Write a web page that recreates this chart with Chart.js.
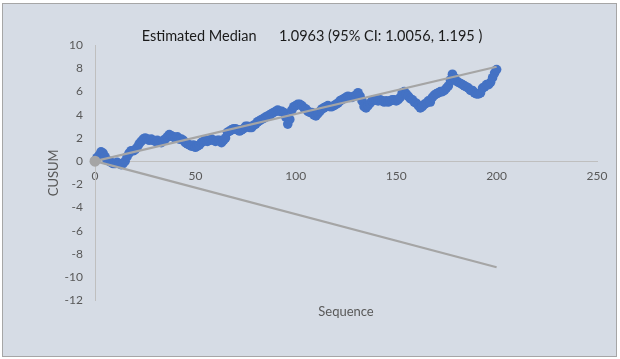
<!DOCTYPE html>
<html>
<head>
<meta charset="utf-8">
<script src="https://cdn.jsdelivr.net/npm/chart.js@4"></script>
<style>
  html, body { margin: 0; padding: 0; background: #ffffff; }
  #wrap { position: relative; width: 620px; height: 359px; }
  #frame { position: absolute; left: 2px; top: 3px; width: 613px; height: 352px; border: 1px solid #a6a6a6; pointer-events: none; }
</style>
</head>
<body>
<div id="wrap">
  <canvas id="c" width="620" height="359"></canvas>
  <div id="frame"></div>
</div>
<script>
const chartTitle = "Estimated Median      1.0963 (95% CI: 1.0056, 1.195 )";
const xTitle = "Sequence";
const yTitle = "CUSUM";
const yTicks = [10, 8, 6, 4, 2, 0, -2, -4, -6, -8, -10, -12];
const xTicks = [0, 50, 100, 150, 200, 250];

// CUSUM value at each sequence index 0..200
const cusum = [
  0,
  0.3, 0.5, 0.8, 0.7, 0.4, 0.1, 0.0, -0.1, -0.2, -0.2,
  -0.1, -0.2, -0.3, -0.2, 0.0, 0.4, 0.7, 0.9, 0.9, 1.0,
  1.2, 1.5, 1.7, 1.9, 2.0, 1.9, 1.8, 1.9, 1.8, 1.7,
  1.8, 1.7, 1.6, 1.8, 1.9, 2.1, 2.3, 2.2, 2.1, 2.0,
  2.1, 1.9, 1.9, 1.8, 1.6, 1.5, 1.4, 1.3, 1.4, 1.2,
  1.3, 1.4, 1.6, 1.7, 1.8, 1.7, 1.8, 1.9, 1.8, 1.7,
  1.8, 1.8, 1.6, 1.8, 2.0, 2.5, 2.6, 2.7, 2.8, 2.8,
  2.7, 2.6, 2.7, 2.8, 3.0, 3.0, 2.9, 2.9, 3.1, 3.2,
  3.4, 3.5, 3.6, 3.7, 3.8, 3.9, 4.0, 4.1, 4.2, 4.3,
  4.4, 4.3, 4.3, 4.2, 3.8, 3.2, 3.6, 4.4, 4.7, 4.8,
  4.9, 4.9, 4.8, 4.6, 4.5, 4.3, 4.2, 4.2, 4.0, 3.9,
  4.1, 4.3, 4.5, 4.6, 4.7, 4.8, 4.7, 4.7, 4.8, 4.9,
  5.0, 5.2, 5.3, 5.4, 5.5, 5.6, 5.5, 5.5, 5.6, 5.7,
  5.9, 5.6, 5.2, 4.7, 4.6, 4.8, 5.0, 5.2, 5.3, 5.3,
  5.2, 5.3, 5.2, 5.1, 5.2, 5.1, 5.2, 5.3, 5.3, 5.2,
  5.3, 5.5, 5.9, 6.0, 5.8, 5.6, 5.4, 5.3, 5.1, 5.0,
  4.8, 4.6, 4.7, 4.9, 5.0, 5.2, 5.1, 5.5, 5.7, 5.8,
  5.9, 6.0, 6.0, 6.1, 6.3, 6.5, 7.0, 7.5, 7.2, 6.9,
  6.8, 6.7, 6.6, 6.5, 6.4, 6.3, 6.1, 6.1, 5.9, 5.8,
  5.8, 5.9, 6.3, 6.4, 6.6, 6.6, 6.8, 7.2, 7.6, 7.9
];

// Control limit lines: [start, end] as [sequence, value]
const upperLimit = [[0, 0], [200, 8.14]];
const lowerLimit = [[0, 0], [200, -9.14]];
const origin = [[0, 0]];

const toXY = arr => arr.map(p => ({ x: p[0], y: p[1] }));

const bgPlugin = {
  id: 'bg',
  beforeDraw(chart) {
    const ctx = chart.ctx;
    ctx.save();
    ctx.fillStyle = '#d6dce5';
    ctx.fillRect(2, 3, 615, 354);
    ctx.restore();
  }
};

const FONT = 'Lato, "Open Sans", sans-serif';

new Chart(document.getElementById('c'), {
  type: 'scatter',
  data: {
    datasets: [
      {
        label: 'CUSUM',
        data: cusum.map((v, i) => ({ x: i, y: v })),
        backgroundColor: '#4472c4',
        borderColor: '#4472c4',
        borderWidth: 0,
        pointRadius: 4.8,
        clip: false,
        order: 3
      },
      {
        label: 'Upper',
        type: 'line',
        data: toXY(upperLimit),
        borderColor: '#a5a5a5',
        borderWidth: 2.25,
        pointRadius: 0,
        fill: false,
        clip: false,
        order: 2
      },
      {
        label: 'Lower',
        type: 'line',
        data: toXY(lowerLimit),
        borderColor: '#a5a5a5',
        borderWidth: 2.25,
        pointRadius: 0,
        fill: false,
        clip: false,
        order: 2
      },
      {
        label: 'Origin',
        data: toXY(origin),
        backgroundColor: '#a5a5a5',
        borderWidth: 0,
        pointRadius: 5.5,
        clip: false,
        order: 1
      }
    ]
  },
  options: {
    responsive: false,
    animation: false,
    events: [],
    layout: { padding: { left: 27, right: 23, top: 27, bottom: 35 } },
    plugins: {
      legend: { display: false },
      tooltip: { enabled: false },
      title: {
        display: true,
        text: chartTitle,
        color: '#1a1a1a',
        font: { family: FONT, size: 14.5, weight: 'normal' },
        padding: { top: 0.4, bottom: 0.4 }
      }
    },
    scales: {
      x: {
        type: 'linear',
        position: { y: 0 },
        min: 0,
        max: 250,
        afterBuildTicks: s => { s.ticks = xTicks.map(v => ({ value: v })); },
        grid: { display: false, drawTicks: false },
        border: { display: true, color: '#bfbfbf', width: 1 },
        ticks: { color: '#595959', padding: 8, font: { family: FONT, size: 12 }, maxRotation: 0 },
        title: { display: false }
      },
      x2: {
        type: 'linear',
        position: 'bottom',
        grid: { display: false, drawTicks: false },
        border: { display: false },
        ticks: { display: false },
        title: { display: true, text: xTitle, color: '#595959', font: { family: FONT, size: 13 }, padding: { top: 4, bottom: 4 } }
      },
      y: {
        type: 'linear',
        position: 'left',
        min: -12,
        max: 10,
        afterBuildTicks: s => { s.ticks = yTicks.map(v => ({ value: v })); },
        afterFit: s => { s.width = 68; },
        grid: { display: false, drawTicks: false },
        border: { display: true, color: '#bfbfbf', width: 1 },
        ticks: { color: '#595959', padding: 12, font: { family: FONT, size: 12 } },
        title: { display: true, text: yTitle, color: '#595959', font: { family: FONT, size: 13 }, padding: { top: 19, bottom: 4 } }
      }
    }
  },
  plugins: [bgPlugin]
});
</script>
</body>
</html>
